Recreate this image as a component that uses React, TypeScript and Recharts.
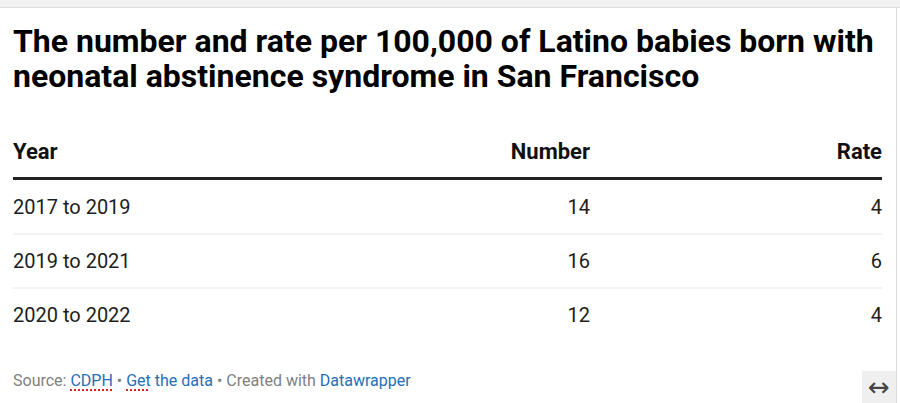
import { BarChart, XAxis, YAxis } from "recharts";

const years = ["2017 to 2019", "2019 to 2021", "2020 to 2022"];
const numbers = [14, 16, 12];
const rates = [4, 6, 4];

const rows = years.map((year, i) => ({ year, number: numbers[i], rate: rates[i] }));

const YEAR_W = 200;
const NUM_W = 100;
const RATE_W = 292;
const CHART_W = 870;
const ROW_H = 54;

const font = "Roboto, 'Noto Sans', sans-serif";
const linkStyle = { color: "#1f6fb5" };
const spellStyle = { textDecoration: "underline dotted #e02020", textUnderlineOffset: 3, textDecorationThickness: 2 };

const YearTick = (props: any) => {
  const { x, y, payload, index } = props;
  const left = x - YEAR_W;
  return (
    <g>
      <text x={left} y={y} dy="0.355em" textAnchor="start" fontSize={20} fill="#1d1d1d" fontFamily={font}>
        {payload.value}
      </text>
      {index < rows.length - 1 && (
        <line x1={left} x2={left + CHART_W - 1} y1={y + ROW_H / 2} y2={y + ROW_H / 2} stroke="#e6e6e6" strokeWidth={1} />
      )}
    </g>
  );
};

const makeRightTick = (w: number) => (props: any) => {
  const { x, y, payload } = props;
  return (
    <text x={x + w} y={y} dy="0.355em" textAnchor="end" fontSize={20} fill="#1d1d1d" fontFamily={font}>
      {payload.value}
    </text>
  );
};

export default function App() {
  return (
    <div style={{ position: "absolute", left: 0, top: 0, width: 900, height: 403, background: "#fff", fontFamily: font, overflow: "hidden" }}>
      <div style={{ position: "absolute", left: 0, top: 0, width: 900, height: 7, background: "#f2f2f2", borderBottom: "1px solid #dcdcdc" }} />
      <div style={{ position: "absolute", left: 896, top: 8, width: 1, height: 395, background: "#dcdcdc" }} />
      <div style={{ position: "absolute", left: 13, top: 24, width: 880, fontSize: 32, fontWeight: 700, lineHeight: "35px", color: "#000" }}>
        The number and rate per 100,000 of Latino babies born with neonatal abstinence syndrome in San Francisco
      </div>

      <div style={{ position: "absolute", left: 13, top: 139, width: 869, height: 28, fontSize: 22, fontWeight: 700, color: "#111" }}>
        <span style={{ position: "absolute", left: 0 }}>Year</span>
        <span style={{ position: "absolute", right: 869 - 577 }}>Number</span>
        <span style={{ position: "absolute", right: 0 }}>Rate</span>
      </div>
      <div style={{ position: "absolute", left: 13, top: 177, width: 869, height: 3, background: "#222" }} />

      <div style={{ position: "absolute", left: 13, top: 180 }}>
        <BarChart layout="vertical" width={CHART_W} height={ROW_H * rows.length} data={rows} margin={{ top: 0, right: 1, bottom: 0, left: 0 }}>
          <XAxis type="number" hide />
          <YAxis yAxisId="year" type="category" dataKey="year" orientation="left" width={YEAR_W} axisLine={false} tickLine={false} tickSize={0} tickMargin={0} tick={<YearTick />} interval={0} />
          <YAxis yAxisId="number" type="category" dataKey="number" orientation="right" width={NUM_W} axisLine={false} tickLine={false} tickSize={0} tickMargin={0} tick={makeRightTick(NUM_W)} interval={0} />
          <YAxis yAxisId="rate" type="category" dataKey="rate" orientation="right" width={RATE_W} axisLine={false} tickLine={false} tickSize={0} tickMargin={0} tick={makeRightTick(RATE_W)} interval={0} />
        </BarChart>
      </div>

      <div style={{ position: "absolute", left: 13, top: 371, fontSize: 16, color: "#808080" }}>
        Source: <span style={{ ...linkStyle, ...spellStyle }}>CDPH</span> • <span style={linkStyle}><span style={spellStyle}>Get</span> the data</span> • Created with <span style={linkStyle}>Datawrapper</span>
      </div>
      <div style={{ position: "absolute", left: 862, top: 371, width: 34, height: 32, background: "#efefef", display: "flex", alignItems: "center", justifyContent: "center", fontSize: 26, fontFamily: "'DejaVu Sans', sans-serif", color: "#444", lineHeight: "32px" }}>
        ↔
      </div>
    </div>
  );
}
